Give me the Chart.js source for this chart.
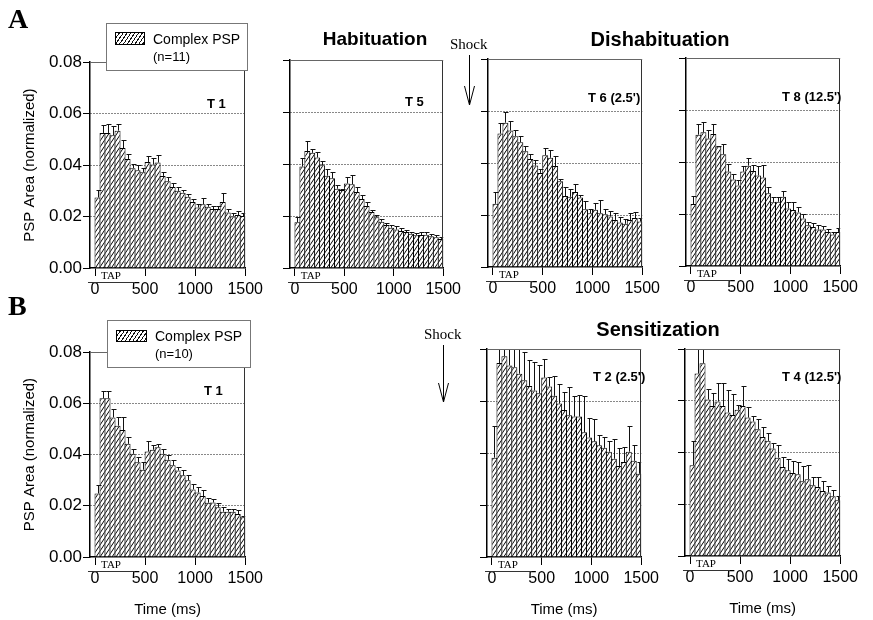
<!DOCTYPE html>
<html>
<head>
<meta charset="utf-8">
<title>Complex PSP area histograms</title>
<script src="https://cdn.jsdelivr.net/npm/chart.js@4.4.1/dist/chart.umd.min.js"></script>
<style>
  html, body { margin: 0; padding: 0; background: #fff; }
  #fig { position: relative; width: 873px; height: 620px; overflow: hidden;
         font-family: "Liberation Sans", Arial, Helvetica, sans-serif; color: #000; }
  #fig canvas { position: absolute; z-index: 1; }
  .t { position: absolute; white-space: nowrap; line-height: 1; z-index: 4; }
  .serif { font-family: "Liberation Serif", "Times New Roman", serif; }
  .b { font-weight: bold; }
  .c { transform: translateX(-50%); }
  .lbl { font-size: 13px; font-weight: bold; }
  .legend { position: absolute; z-index: 3; background: #fff; border: 1px solid #777; box-sizing: border-box; }
  .swatch { position: absolute; z-index: 4; box-sizing: border-box; border: 1px solid #000;
            background: repeating-linear-gradient(124deg, #fff 0 2.2px, #111 2.2px 3.2px); }
  #arrows { position: absolute; left: 0; top: 0; z-index: 4; }
</style>
</head>
<body>
<div id="fig">
  <div class="t serif b" style="left:8px;top:5px;font-size:28px">A</div>
  <div class="t serif b" style="left:8px;top:292px;font-size:28px">B</div>

  <div class="t b c" style="left:375px;top:29px;font-size:19px">Habituation</div>
  <div class="t b c" style="left:660px;top:29px;font-size:20px">Dishabituation</div>
  <div class="t b c" style="left:658px;top:319px;font-size:20px">Sensitization</div>

  <div class="t serif" style="left:450px;top:37px;font-size:15px">Shock</div>
  <div class="t serif" style="left:424px;top:327px;font-size:15px">Shock</div>
  <svg id="arrows" width="873" height="620">
    <g stroke="#000" stroke-width="1" fill="none">
      <path d="M469.5 55 V105 M464.5 86 L469.5 105 L474.5 86"/>
      <path d="M443.5 345 V402 M438.5 383 L443.5 402 L448.5 383"/>
    </g>
  </svg>

  <div class="legend" style="left:106px;top:23px;width:142px;height:48px"></div>
  <div class="swatch" style="left:115px;top:32px;width:30px;height:13px"></div>
  <div class="t" style="left:153px;top:31.5px;font-size:14px">Complex PSP</div>
  <div class="t" style="left:153px;top:49.5px;font-size:13px">(n=11)</div>

  <div class="legend" style="left:107px;top:320px;width:144px;height:48px"></div>
  <div class="swatch" style="left:116px;top:330px;width:31px;height:12px"></div>
  <div class="t" style="left:155px;top:328.5px;font-size:14px">Complex PSP</div>
  <div class="t" style="left:155px;top:347px;font-size:13px">(n=10)</div>

  <div class="t lbl" style="left:207px;top:96.5px">T 1</div>
  <div class="t lbl" style="left:405px;top:95px">T 5</div>
  <div class="t lbl" style="left:588px;top:91px">T 6 (2.5')</div>
  <div class="t lbl" style="left:782px;top:90px">T 8 (12.5')</div>
  <div class="t lbl" style="left:204px;top:384px">T 1</div>
  <div class="t lbl" style="left:593px;top:369.5px">T 2 (2.5')</div>
  <div class="t lbl" style="left:782px;top:370px">T 4 (12.5')</div>
</div>

<script>
// Normalized PSP area per 50 ms bin after a tap, mean + SEM.
var BIN_MS = [25, 75, 125, 175, 225, 275, 325, 375, 425, 475,
              525, 575, 625, 675, 725, 775, 825, 875, 925, 975,
              1025, 1075, 1125, 1175, 1225, 1275, 1325, 1375, 1425, 1475];
var X_TICKS = [0, 500, 1000, 1500];
var Y_TICKS = [0, 0.02, 0.04, 0.06, 0.08];
var TAP_SPAN = [-70, 400];        // extent of the TAP bar under each axis (ms)
var TAP_LABEL_MS = 160;

// A: habituation / dishabituation (n=11)
var habT1 = [0.0274, 0.0525, 0.0525, 0.0516, 0.0534, 0.0466, 0.0424, 0.0388, 0.0380, 0.0372,
             0.0412, 0.0402, 0.0410, 0.0358, 0.0337, 0.0315, 0.0300, 0.0293, 0.0277, 0.0257,
             0.0235, 0.0248, 0.0238, 0.0229, 0.0229, 0.0257, 0.0216, 0.0200, 0.0206, 0.0202];
var habT1Err = [0.0028, 0.0032, 0.0035, 0.0035, 0.0025, 0.0030, 0.0020, 0.0015, 0.0020, 0.0015,
                0.0025, 0.0025, 0.0030, 0.0015, 0.0015, 0.0015, 0.0015, 0.0012, 0.0012, 0.0010,
                0.0015, 0.0025, 0.0010, 0.0012, 0.0012, 0.0035, 0.0012, 0.0012, 0.0015, 0.0012];

var habT5 = [0.0176, 0.0390, 0.0450, 0.0443, 0.0425, 0.0395, 0.0355, 0.0345, 0.0305, 0.0300,
             0.0325, 0.0322, 0.0292, 0.0265, 0.0238, 0.0215, 0.0195, 0.0178, 0.0165, 0.0155,
             0.0148, 0.0142, 0.0138, 0.0132, 0.0126, 0.0127, 0.0128, 0.0122, 0.0118, 0.0112];
var habT5Err = [0.0020, 0.0035, 0.0040, 0.0015, 0.0020, 0.0015, 0.0025, 0.0025, 0.0015, 0.0005,
                0.0025, 0.0035, 0.0020, 0.0015, 0.0015, 0.0010, 0.0010, 0.0012, 0.0010, 0.0010,
                0.0012, 0.0010, 0.0008, 0.0008, 0.0008, 0.0012, 0.0010, 0.0008, 0.0008, 0.0008];

var disT6 = [0.0243, 0.0513, 0.0555, 0.0525, 0.0503, 0.0480, 0.0445, 0.0415, 0.0390, 0.0362,
             0.0430, 0.0420, 0.0388, 0.0330, 0.0273, 0.0270, 0.0288, 0.0267, 0.0222, 0.0207,
             0.0220, 0.0207, 0.0203, 0.0194, 0.0181, 0.0171, 0.0166, 0.0181, 0.0188, 0.0175];
var disT6Err = [0.0045, 0.0040, 0.0040, 0.0035, 0.0025, 0.0025, 0.0020, 0.0020, 0.0020, 0.0015,
                0.0028, 0.0030, 0.0040, 0.0010, 0.0035, 0.0030, 0.0030, 0.0010, 0.0030, 0.0015,
                0.0025, 0.0050, 0.0020, 0.0020, 0.0025, 0.0020, 0.0020, 0.0025, 0.0022, 0.0012];

var disT8 = [0.0238, 0.0505, 0.0514, 0.0490, 0.0508, 0.0460, 0.0430, 0.0363, 0.0333, 0.0310,
             0.0363, 0.0386, 0.0365, 0.0348, 0.0340, 0.0280, 0.0245, 0.0247, 0.0266, 0.0221,
             0.0215, 0.0206, 0.0183, 0.0157, 0.0150, 0.0140, 0.0140, 0.0131, 0.0121, 0.0131];
var disT8Err = [0.0030, 0.0040, 0.0040, 0.0035, 0.0040, 0.0003, 0.0040, 0.0030, 0.0020, 0.0020,
                0.0020, 0.0030, 0.0022, 0.0035, 0.0050, 0.0023, 0.0022, 0.0020, 0.0022, 0.0025,
                0.0030, 0.0020, 0.0017, 0.0013, 0.0015, 0.0017, 0.0013, 0.0010, 0.0010, 0.0017];

// B: sensitization (n=10)
var senT1 = [0.0248, 0.0620, 0.0620, 0.0545, 0.0513, 0.0496, 0.0442, 0.0403, 0.0370, 0.0341,
             0.0412, 0.0419, 0.0429, 0.0403, 0.0380, 0.0358, 0.0338, 0.0319, 0.0300, 0.0264,
             0.0252, 0.0238, 0.0212, 0.0213, 0.0194, 0.0177, 0.0177, 0.0177, 0.0168, 0.0155];
var senT1Err = [0.0035, 0.0030, 0.0030, 0.0033, 0.0033, 0.0050, 0.0026, 0.0020, 0.0020, 0.0030,
                0.0043, 0.0020, 0.0013, 0.0020, 0.0020, 0.0020, 0.0013, 0.0020, 0.0020, 0.0020,
                0.0020, 0.0023, 0.0017, 0.0012, 0.0015, 0.0020, 0.0010, 0.0010, 0.0015, 0.0007];

var senT2 = [0.0382, 0.0746, 0.0772, 0.0737, 0.0730, 0.0705, 0.0680, 0.0658, 0.0640, 0.0630,
             0.0690, 0.0656, 0.0620, 0.0590, 0.0565, 0.0545, 0.0540, 0.0540, 0.0480, 0.0460,
             0.0445, 0.0430, 0.0420, 0.0405, 0.0378, 0.0350, 0.0365, 0.0405, 0.0370, 0.0320];
var senT2Err = [0.0120, 0.0120, 0.0120, 0.0120, 0.0120, 0.0120, 0.0110, 0.0100, 0.0110, 0.0110,
                0.0070, 0.0035, 0.0075, 0.0075, 0.0070, 0.0110, 0.0080, 0.0085, 0.0140, 0.0075,
                0.0085, 0.0040, 0.0040, 0.0040, 0.0075, 0.0068, 0.0060, 0.0100, 0.0060, 0.0045];

var senT4 = [0.0351, 0.0705, 0.0745, 0.0605, 0.0580, 0.0597, 0.0580, 0.0555, 0.0545, 0.0565,
             0.0580, 0.0535, 0.0520, 0.0490, 0.0460, 0.0445, 0.0415, 0.0380, 0.0344, 0.0331,
             0.0321, 0.0316, 0.0289, 0.0297, 0.0273, 0.0267, 0.0251, 0.0245, 0.0231, 0.0215];
var senT4Err = [0.0093, 0.0120, 0.0120, 0.0040, 0.0050, 0.0070, 0.0087, 0.0085, 0.0080, 0.0020,
                0.0077, 0.0040, 0.0022, 0.0040, 0.0040, 0.0030, 0.0020, 0.0050, 0.0040, 0.0045,
                0.0045, 0.0048, 0.0060, 0.0055, 0.0032, 0.0038, 0.0040, 0.0025, 0.0023, 0.0017];

// frame = [left, top, right, bottom] of each plot box on the page
var PANELS = [
  { vals: habT1, errs: habT1Err, frame: [90, 61, 257, 268],  yLabels: true,  xTitle: false },
  { vals: habT5, errs: habT5Err, frame: [290, 60, 455, 268], yLabels: false, xTitle: false },
  { vals: disT6, errs: disT6Err, frame: [488, 59, 654, 267], yLabels: false, xTitle: false },
  { vals: disT8, errs: disT8Err, frame: [686, 58, 852, 266], yLabels: false, xTitle: false },
  { vals: senT1, errs: senT1Err, frame: [90, 351, 257, 557], yLabels: true,  xTitle: true },
  { vals: senT2, errs: senT2Err, frame: [487, 349, 653, 557], yLabels: false, xTitle: true },
  { vals: senT4, errs: senT4Err, frame: [685, 349, 852, 556], yLabels: false, xTitle: true }
];

var SANS = '"Liberation Sans", Arial, Helvetica, sans-serif';
var SERIF = '"Liberation Serif", "Times New Roman", serif';
var Y_AXIS_W = 90, X_AXIS_H = 62, PAD_TOP = 10, PAD_RIGHT = 10;

Chart.defaults.font.family = SANS;
Chart.defaults.color = '#000';

// white bar fill with steep "////" hatching
function makeHatch() {
  var w = 12, h = 18, step = 4;
  var c = document.createElement('canvas');
  c.width = w; c.height = h;
  var g = c.getContext('2d');
  g.fillStyle = '#fff';
  g.fillRect(0, 0, w, h);
  g.strokeStyle = '#000';
  g.lineWidth = 1;
  for (var k = -w; k <= 2 * w; k += step) {
    g.beginPath(); g.moveTo(k, h); g.lineTo(k + w, 0); g.stroke();
  }
  return g.createPattern(c, 'repeat');
}

// error bars, the right/top edges of the box and the TAP marker
var panelExtras = {
  id: 'panelExtras',
  afterDatasetsDraw: function (chart) {
    var ctx = chart.ctx, area = chart.chartArea;
    var xs = chart.scales.x, ys = chart.scales.y;
    var ds = chart.data.datasets[0];

    ctx.save();
    ctx.beginPath();
    ctx.rect(area.left, area.top, area.right - area.left, area.bottom - area.top);
    ctx.clip();
    ctx.strokeStyle = '#111';
    ctx.lineWidth = 1;
    ds.data.forEach(function (pt, i) {
      var x = Math.round(xs.getPixelForValue(pt.x)) + 0.5;
      var yBar = ys.getPixelForValue(pt.y);
      var yTop = Math.round(ys.getPixelForValue(pt.y + ds.errors[i])) + 0.5;
      ctx.beginPath();
      ctx.moveTo(x, yBar); ctx.lineTo(x, yTop);
      ctx.moveTo(x - 2, yTop); ctx.lineTo(x + 3, yTop);
      ctx.stroke();
    });
    ctx.restore();

    ctx.save();
    ctx.lineWidth = 1;
    ctx.strokeStyle = '#333';
    ctx.beginPath();
    ctx.moveTo(Math.round(area.right) - 0.5, area.top);
    ctx.lineTo(Math.round(area.right) - 0.5, area.bottom);
    ctx.stroke();
    ctx.strokeStyle = '#666';
    ctx.beginPath();
    ctx.moveTo(area.left, Math.round(area.top) + 0.5);
    ctx.lineTo(area.right, Math.round(area.top) + 0.5);
    ctx.stroke();

    var yl = Math.round(area.bottom + 14) + 0.5;
    ctx.strokeStyle = '#333';
    ctx.beginPath();
    ctx.moveTo(xs.getPixelForValue(TAP_SPAN[0]), yl);
    ctx.lineTo(xs.getPixelForValue(TAP_SPAN[1]), yl);
    ctx.stroke();
    ctx.fillStyle = '#000';
    ctx.font = '11px ' + SERIF;
    ctx.textAlign = 'center';
    ctx.textBaseline = 'alphabetic';
    ctx.fillText('TAP', xs.getPixelForValue(TAP_LABEL_MS), area.bottom + 11);
    ctx.restore();
  }
};

function makePanel(p, hatch) {
  var f = p.frame;
  var W = (f[2] - f[0]) + Y_AXIS_W + PAD_RIGHT;
  var H = (f[3] - f[1]) + PAD_TOP + X_AXIS_H;
  var cv = document.createElement('canvas');
  cv.width = W; cv.height = H;
  cv.style.width = W + 'px'; cv.style.height = H + 'px';
  cv.style.left = (f[0] - Y_AXIS_W) + 'px';
  cv.style.top = (f[1] - PAD_TOP) + 'px';
  document.getElementById('fig').appendChild(cv);

  return new Chart(cv, {
    type: 'bar',
    data: {
      datasets: [{
        label: 'Complex PSP',
        data: BIN_MS.map(function (ms, i) { return { x: ms, y: p.vals[i] }; }),
        errors: p.errs,
        backgroundColor: hatch,
        borderColor: '#000',
        borderWidth: 1,
        barPercentage: 1.2,
        categoryPercentage: 1
      }]
    },
    options: {
      responsive: false,
      animation: false,
      devicePixelRatio: 1,
      layout: { padding: { left: 0, right: PAD_RIGHT, top: PAD_TOP, bottom: 0 } },
      plugins: { legend: { display: false }, tooltip: { enabled: false } },
      scales: {
        x: {
          type: 'linear', min: -50, max: 1500, offset: false,
          afterBuildTicks: function (s) { s.ticks = X_TICKS.map(function (v) { return { value: v }; }); },
          afterFit: function (s) { s.height = X_AXIS_H; },
          ticks: { font: { size: 16 }, padding: 4, maxRotation: 0, autoSkip: false,
                   callback: function (v) { return String(v); } },
          grid: { drawOnChartArea: false, drawTicks: true, tickLength: 8, tickColor: '#000', offset: false },
          border: { display: true, color: '#000', width: 1.5 },
          title: { display: p.xTitle, text: 'Time (ms)', font: { size: 15 }, padding: { top: 0, bottom: 0 } }
        },
        y: {
          min: 0, max: 0.08,
          afterBuildTicks: function (s) { s.ticks = Y_TICKS.map(function (v) { return { value: v }; }); },
          afterFit: function (s) { s.width = Y_AXIS_W; },
          ticks: { display: p.yLabels, font: { size: 17 }, padding: 1,
                   callback: function (v) { return Number(v).toFixed(2); } },
          grid: {
            color: function (c) {
              var v = c.tick ? c.tick.value : 0;
              return (v > 0.001 && v < 0.079) ? '#111' : 'rgba(0,0,0,0)';
            },
            borderDash: [1, 2],
            tickColor: '#000', tickLength: 7, tickWidth: 1, tickBorderDash: []
          },
          border: { display: true, color: '#000', width: 1.5, dash: [1, 2] },
          title: { display: p.yLabels, text: 'PSP Area (normalized)', font: { size: 15 },
                   padding: { top: 21, bottom: 0 } }
        }
      }
    },
    plugins: [panelExtras]
  });
}

var hatch = makeHatch();
PANELS.forEach(function (p) { makePanel(p, hatch); });
</script>
</body>
</html>
